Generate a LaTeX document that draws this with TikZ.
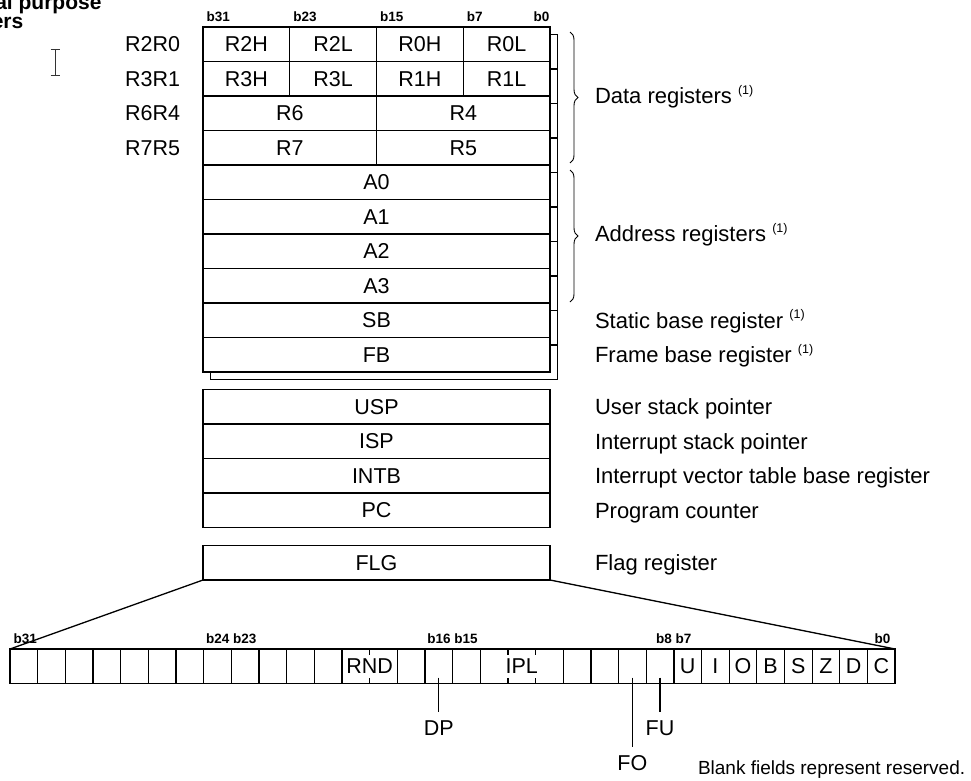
\documentclass[tikz,border=0pt]{standalone}
\usepackage{fontspec}
\setmainfont{Liberation Sans}
\usetikzlibrary{positioning,decorations.pathreplacing}

\newcommand*{\regx}{203}
\newcommand*{\rowh}{34.5}
\newcommand*{\bankshift}{7.5}
\newcommand*{\flgx}{10}
\newcommand*{\flgy}{649}
\newcommand*{\bitw}{27.66}
\newcommand*{\fnmark}{\raisebox{0.42em}{\fontsize{12.5}{13}\selectfont (1)}}

\begin{document}
\begin{tikzpicture}
[
	x=1pt,y=-1pt,
	line width=1.3pt,
	txt/.style={inner sep=0pt,outer sep=0pt,text height=15.4pt,text depth=0pt,font=\fontsize{21.5}{24}\selectfont},
	cell/.style={txt,draw,fill=white,minimum height=34.5pt,anchor=north west},
	quarter/.style={minimum width=86.75pt},
	half/.style={minimum width=173.5pt},
	full/.style={minimum width=347pt},
	bit/.style={minimum width=27.66pt},
	bitno/.style={inner sep=0pt,font=\fontsize{13.5}{14}\selectfont\bfseries},
	desc/.style={txt,anchor=west,text height=15.75pt,font=\fontsize{22}{24}\selectfont},
	title/.style={inner sep=0pt,font=\fontsize{21}{24}\selectfont\bfseries},
	regbrace/.style={decorate,decoration={brace,amplitude=8pt},line width=0.9pt}
]
	\useasboundingbox (0,0) rectangle (971,780);
	\clip (0,0) rectangle (971,780);

	% heading, cut off by the page edge
	\node[title,anchor=base east] (ttl2) at (24,28) {registers};
	\node[title,anchor=base west] (ttl1) at ([yshift=19pt]ttl2.base west) {General purpose};

	% mouse cursor
	\draw[line width=0.9pt,black!80] (50.5,49.5) -- (59.5,49.5) (55,49.5) -- (55,75.5) (50.5,75.5) -- (59.5,75.5);

	% register bank 1, behind
	\foreach \i in {0,...,9}
		\draw[fill=white] ({\regx+\bankshift},{27+\bankshift+\i*\rowh}) rectangle ++(347,\rowh);

	% data registers
	\foreach \a/\b/\c/\d [count=\i from 0] in {R2H/R2L/R0H/R0L,R3H/R3L/R1H/R1L}
	{
		\node[cell,quarter] (\a) at (\regx,{27+\i*\rowh}) {\a};
		\node[cell,quarter] (\b) at (\a.north east) {\b};
		\node[cell,quarter] (\c) at (\b.north east) {\c};
		\node[cell,quarter] (\d) at (\c.north east) {\d};
	}
	\foreach \a/\b [count=\i from 2] in {R6/R4,R7/R5}
	{
		\node[cell,half] (\a) at (\regx,{27+\i*\rowh}) {\a};
		\node[cell,half] (\b) at (\a.north east) {\b};
	}
	\foreach \t [count=\i from 4] in {A0,A1,A2,A3,SB,FB}
		\node[cell,full] (\t) at (\regx,{27+\i*\rowh}) {\t};

	\foreach \t [count=\i from 0] in {R2R0,R3R1,R6R4,R7R5}
		\node[txt,anchor=east] (\t) at (180,{27+(\i+0.5)*\rowh}) {\t};

	% bit numbers
	\node[bitno,anchor=south west] (t31) at ([xshift=3pt,yshift=5pt]R2H.north west) {b31};
	\node[bitno,anchor=south west] (t23) at ([xshift=3pt,yshift=5pt]R2L.north west) {b23};
	\node[bitno,anchor=south west] (t15) at ([xshift=3pt,yshift=5pt]R0H.north west) {b15};
	\node[bitno,anchor=south west] (t7) at ([xshift=3pt,yshift=5pt]R0L.north west) {b7};
	\node[bitno,anchor=south east] (t0) at ([yshift=5pt]R0L.north east) {b0};

	% braces and descriptions
	\draw[regbrace] ([xshift=20pt,yshift=-5pt]R0L.north east) -- ([xshift=20pt,yshift=2pt]R5.south east);
	\draw[regbrace] ([xshift=20pt,yshift=-5pt]A0.north east) -- ([xshift=20pt,yshift=1pt]A3.south east);
	\node[desc] (datadesc) at ([xshift=45pt]R1L.south east) {Data registers \fnmark};
	\node[desc] (addrdesc) at ([xshift=45pt]A1.south east) {Address registers \fnmark};
	\node[desc] (sbdesc) at ([xshift=45pt]SB.east) {Static base register \fnmark};
	\node[desc] (fbdesc) at ([xshift=45pt]FB.east) {Frame base register \fnmark};

	% control registers
	\foreach \t/\d [count=\i from 0] in {USP/User stack pointer,ISP/Interrupt stack pointer,INTB/Interrupt vector table base register,PC/Program counter}
	{
		\node[cell,full] (\t) at (\regx,{389.5+\i*\rowh}) {\t};
		\node[desc] (\t desc) at ([xshift=45pt]\t.east) {\d};
	}
	\node[cell,full] (FLG) at (\regx,545.5) {FLG};
	\node[desc] (FLGdesc) at ([xshift=45pt]FLG.east) {Flag register};

	% flag register, b31 on the left
	\foreach \k in {0,...,23}
		\node[cell,bit] (f\k) at ({\flgx+\k*\bitw},\flgy) {};
	\foreach \t [count=\k from 24] in {U,I,O,B,S,Z,D,C}
		\node[cell,bit] (f\k) at ({\flgx+\k*\bitw},\flgy) {\t};
	\node[cell,minimum width=55.32pt] (RND) at (f12.north west) {RND};
	\node[cell,minimum width=82.98pt] (IPL) at (f17.north west) {IPL};
	\foreach \k in {13,18,19}
		\draw (f\k.north west) -- ++(0,6) (f\k.south west) -- ++(0,-6);

	\draw (FLG.south west) -- (f0.north west);
	\draw (FLG.south east) -- (f31.north east);

	\node[bitno,anchor=south west] (n31) at ([xshift=3pt,yshift=5pt]f0.north west) {b31};
	\node[bitno,anchor=south] (n24) at ([yshift=5pt]f8.north west) {b24 b23};
	\node[bitno,anchor=south] (n16) at ([yshift=5pt]f16.north west) {b16 b15};
	\node[bitno,anchor=south] (n8) at ([yshift=5pt]f24.north west) {b8 b7};
	\node[bitno,anchor=south east] (n0) at ([xshift=-4pt,yshift=5pt]f31.north east) {b0};

	% single flags named below the row
	\node[txt,below=36.5pt of f15] (DP) {DP};
	\node[txt,below=71.8pt of f22] (FO) {FO};
	\node[txt,below=36.5pt of f23] (FU) {FU};
	\foreach \f/\k in {DP/15,FO/22,FU/23}
		\draw ([yshift=6pt]f\k.south) -- ([yshift=8pt]\f.north);

	\node[txt,anchor=west,font=\fontsize{19}{22}\selectfont,text height=13.6pt] (blanknote) at (698,768) {Blank fields represent reserved.};

\end{tikzpicture}
\end{document}
